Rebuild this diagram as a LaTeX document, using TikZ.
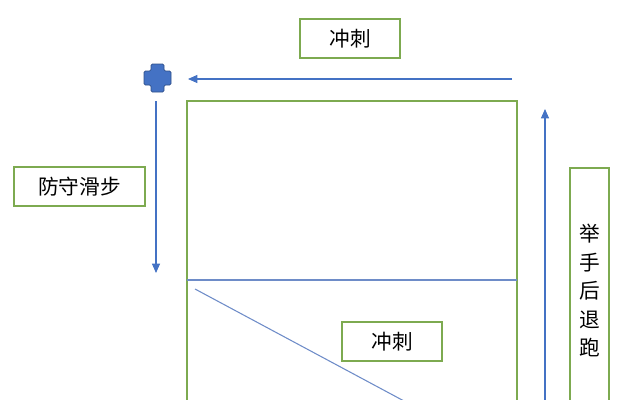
\documentclass[tikz,border=0pt]{standalone}
\usepackage{fontspec}
\newfontfamily\cjk{Noto Sans CJK SC}
\usetikzlibrary{arrows.meta}
\definecolor{boxgreen}{RGB}{125,170,80}
\definecolor{arrblue}{RGB}{68,114,196}
\definecolor{lineblue}{RGB}{110,140,200}
\tikzset{
  lbl/.style={draw=boxgreen,line width=1.2pt,fill=white,inner sep=0pt,font=\cjk\fontsize{15.5pt}{21.4pt}\selectfont},
  arr/.style={draw=arrblue,line width=0.8pt,-{Triangle[length=7pt,width=6pt]}},
  thin/.style={draw=lineblue,line width=0.8pt},
  frame/.style={draw=boxgreen,line width=1.2pt}
}
\begin{document}
\begin{tikzpicture}[x=0.75pt,y=-0.75pt]
\useasboundingbox (0,0) rectangle (633,400);
\clip (0,0) rectangle (633,400);
% big rectangle
\draw[frame] (187,101) rectangle (517,430);
\coordinate (hl) at (187,280);
\coordinate (hr) at (517,280);
\draw[thin] (hl) -- (hr);
\coordinate (d1) at (195,289);
\coordinate (d2) at (460,431);
\draw[thin] (d1) -- (d2);
% top label and arrow
\node[lbl,minimum width=100*0.75pt,minimum height=39*0.75pt] (top) at (350,38.5) {冲刺};
\coordinate (ta) at (512,79);
\coordinate (tb) at (188,79);
\draw[arr] (ta) -- (tb);
% cross
\fill[arrblue,draw=arrblue!70!black,line width=0.6pt,rounded corners=1pt]
  (151,64) -- (164,64) -- (164,71) -- (171,71) -- (171,85) -- (164,85) -- (164,92) -- (151,92) -- (151,85) -- (144,85) -- (144,71) -- (151,71) -- cycle;
\node[inner sep=0pt] (cross) at (157.5,78) {};
% left vertical arrow
\coordinate (la) at (156,101);
\coordinate (lb) at (156,273);
\draw[arr] (la) -- (lb);
\node[lbl,minimum width=131*0.75pt,minimum height=39*0.75pt] (def) at (79.5,186.5) {防守滑步};
% inner label
\node[lbl,minimum width=100*0.75pt,minimum height=39*0.75pt] (mid) at (392,341.5) {冲刺};
% right up arrow
\coordinate (ra) at (545,430);
\coordinate (rb) at (545,109);
\draw[arr] (ra) -- (rb);
% right vertical box
\draw[frame] (570,168) rectangle (609,440);
\node[font=\cjk\fontsize{15.5pt}{21.4pt}\selectfont,align=center,inner sep=0pt] (rt) at (590,290.5) {举\\手\\后\\退\\跑};
\end{tikzpicture}
\end{document}
